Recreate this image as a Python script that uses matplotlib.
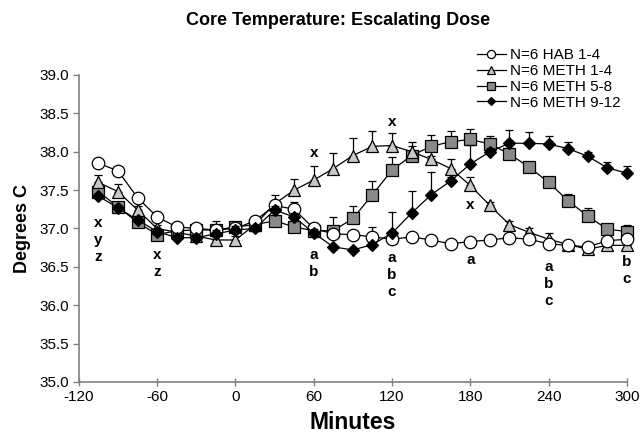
import numpy as np
import matplotlib
matplotlib.use("Agg")
import matplotlib.pyplot as plt

plt.rcParams['font.family'] = ['Liberation Sans', 'DejaVu Sans']
plt.rcParams['axes.unicode_minus'] = False

minutes = [-105, -90, -75, -60, -45, -30, -15, 0, 15, 30, 45, 60, 75, 90, 105,
           120, 135, 150, 165, 180, 195, 210, 225, 240, 255, 270, 285, 300]

hab_1_4 = [37.85, 37.75, 37.40, 37.15, 37.02, 37.00, 36.98, 37.00, 37.10, 37.30,
           37.25, 37.00, 36.93, 36.92, 36.89, 36.86, 36.89, 36.85, 36.80, 36.83,
           36.85, 36.88, 36.86, 36.80, 36.78, 36.76, 36.84, 36.86]
hab_1_4_err = [0.0, 0.0, 0.0, 0.0, 0.0, 0.0, 0.0, 0.0, 0.05, 0.05, 0.10, 0.05, 0.05,
               0.05, 0.13, 0.05, 0.05, 0.05, 0.05, 0.05, 0.05, 0.05, 0.05, 0.05,
               0.05, 0.05, 0.05, 0.05]

meth_1_4 = [37.60, 37.48, 37.24, 37.00, 36.95, 36.90, 36.85, 36.85, 37.05, 37.32,
            37.50, 37.63, 37.78, 37.95, 38.07, 38.08, 38.00, 37.90, 37.78, 37.56,
            37.30, 37.05, 36.95, 36.86, 36.79, 36.73, 36.78, 36.78]
meth_1_4_err = [0.10, 0.10, 0.05, 0.05, 0.05, 0.05, 0.15, 0.05, 0.05, 0.12, 0.15,
                0.18, 0.20, 0.23, 0.20, 0.17, 0.13, 0.05, 0.13, 0.11, 0.05, 0.05,
                0.05, 0.08, 0.05, 0.05, 0.05, 0.05]

meth_5_8 = [37.48, 37.28, 37.08, 36.92, 36.97, 36.98, 36.98, 37.02, 37.05, 37.10,
            37.02, 36.97, 36.97, 37.13, 37.44, 37.76, 37.95, 38.07, 38.13, 38.16,
            38.10, 37.97, 37.80, 37.60, 37.36, 37.16, 36.99, 36.96]
meth_5_8_err = [0.05, 0.05, 0.05, 0.05, 0.05, 0.05, 0.12, 0.05, 0.08, 0.05, 0.05,
                0.10, 0.18, 0.16, 0.18, 0.17, 0.13, 0.15, 0.14, 0.13, 0.10, 0.05,
                0.05, 0.05, 0.09, 0.11, 0.05, 0.09]

meth_9_12 = [37.42, 37.27, 37.11, 36.96, 36.88, 36.88, 36.93, 36.98, 37.00, 37.24,
             37.15, 36.94, 36.76, 36.72, 36.79, 36.94, 37.20, 37.44, 37.62, 37.84,
             38.00, 38.11, 38.11, 38.10, 38.04, 37.94, 37.79, 37.72]
meth_9_12_err = [0.03, 0.03, 0.03, 0.03, 0.03, 0.03, 0.05, 0.05, 0.05, 0.05, 0.05,
                 0.05, 0.03, 0.03, 0.03, 0.27, 0.29, 0.30, 0.05, 0.25, 0.05, 0.17,
                 0.15, 0.10, 0.08, 0.05, 0.07, 0.10]

labels = ["N=6 HAB 1-4", "N=6 METH 1-4", "N=6 METH 5-8", "N=6 METH 9-12"]

# significance letters: x position, y of the first letter, stacked letters
annot_x = [-105, -60, 60, 60, 120, 120, 180, 180, 240, 300]
annot_y = [37.07, 36.65, 37.98, 36.65, 38.39, 36.62, 37.31, 36.59, 36.50, 36.56]
annot_text = ["x\ny\nz", "x\nz", "x", "a\nb", "x", "a\nb\nc", "x", "a", "a\nb\nc", "b\nc"]

xticks = [-120, -60, 0, 60, 120, 180, 240, 300]
yticks = [35.0, 35.5, 36.0, 36.5, 37.0, 37.5, 38.0, 38.5, 39.0]

fig = plt.figure(figsize=(6.41, 4.46), dpi=100)
ax = fig.add_axes([0.123, 0.1435, 0.855, 0.6885])

series = [
    (hab_1_4, hab_1_4_err, 'o', 'white', 9, 4),
    (meth_1_4, meth_1_4_err, '^', '#c8c8c8', 9, 3),
    (meth_5_8, meth_5_8_err, 's', '#8a8a8a', 8, 2),
    (meth_9_12, meth_9_12_err, 'D', 'black', 6.5, 5),
]

x = np.array(minutes)
for (vals, err, mk, fc, ms, z), lab in zip(series, labels):
    vals = np.array(vals)
    err = np.array(err)
    eb = ax.errorbar(x, vals, yerr=[np.zeros_like(err), err], fmt='none',
                     ecolor='black', elinewidth=0.9, capsize=3, capthick=0.9,
                     zorder=z - 0.5)
    for art in eb.lines[1] + eb.lines[2]:
        art.set_clip_on(False)
    ax.plot(x, vals, color='black', lw=0.9, marker=mk, markersize=ms,
            markerfacecolor=fc, markeredgecolor='black', markeredgewidth=0.9,
            label=lab, zorder=z, clip_on=False)

for ax_, ay_, t_ in zip(annot_x, annot_y, annot_text):
    for k, ch in enumerate(t_.split('\n')):
        ax.annotate(ch, (ax_, ay_), xytext=(0, -2.9 - k * 12.2),
                    textcoords='offset points', ha='center', va='baseline',
                    fontsize=11, fontweight='bold', annotation_clip=False)

ax.set_xlim(-120, 300)
ax.set_ylim(35.0, 39.0)
ax.set_xticks(xticks)
ax.set_yticks(yticks)
ax.set_yticklabels([f"{v:.1f}" for v in yticks])
ax.tick_params(axis='both', labelsize=11, color='#808080', width=1.0)
ax.tick_params(axis='x', direction='inout', length=6, pad=3)
ax.tick_params(axis='y', direction='out', length=4, pad=3)
for s in ['top', 'right']:
    ax.spines[s].set_visible(False)
for s in ['left', 'bottom']:
    ax.spines[s].set_color('#808080')
    ax.spines[s].set_linewidth(1.2)

ax.set_xlabel("Minutes", fontsize=16.5, fontweight='bold', labelpad=5)
ax.set_ylabel("Degrees C", fontsize=13, fontweight='bold', labelpad=6)
fig.text(0.527, 0.955, "Core Temperature: Escalating Dose", ha='center', va='center',
         fontsize=13, fontweight='bold')

leg = ax.legend(loc='upper left', bbox_to_anchor=(0.715, 1.108), frameon=False,
                fontsize=11, handlelength=1.9, handletextpad=0.25, labelspacing=0.13,
                markerscale=0.65, borderaxespad=0, borderpad=0.4)

fig.savefig("out.png", dpi=100)
